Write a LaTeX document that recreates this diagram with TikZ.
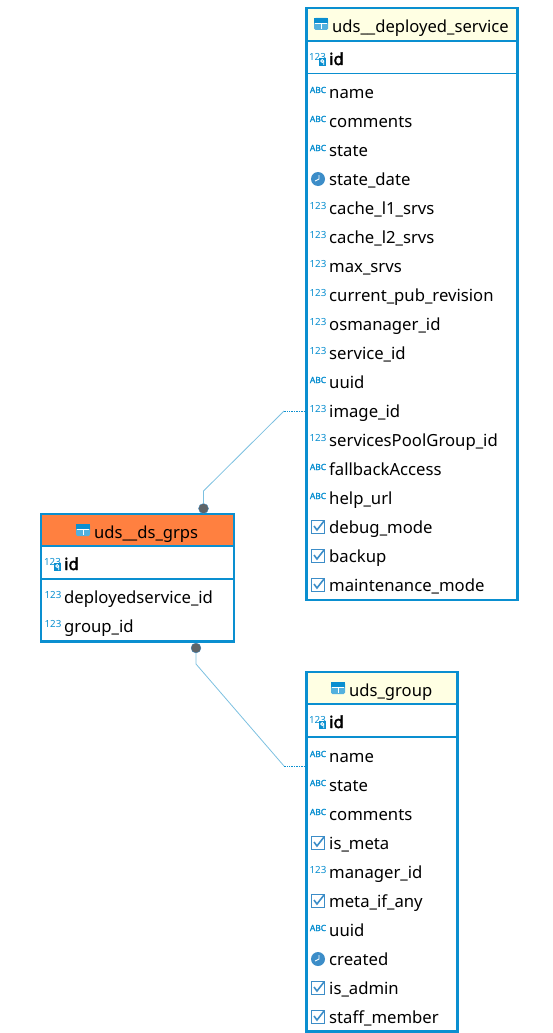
\documentclass[tikz,border=0pt]{standalone}
\usepackage{fontspec}
\setmainfont{Noto Sans}
\newfontfamily\heavyfont[FakeBold=2.2]{Noto Sans}
\usetikzlibrary{calc,positioning}
\definecolor{tableblue}{HTML}{0A8FD0}
\definecolor{iconblue}{HTML}{3C8DC8}
\definecolor{headyellow}{HTML}{FFFFE3}
\definecolor{headorange}{HTML}{FF8040}
\definecolor{linkblue}{HTML}{7CC0E0}
\definecolor{dotgrey}{HTML}{5F6468}
\tikzset{
    erd diagram/.style = {x=1pt, y=-1pt},
    box/.style         = {draw=tableblue, line width=2.2pt, inner sep=0pt,
                          outer sep=0pt, anchor=north west},
    header/.style      = {inner sep=0pt, outer sep=0pt, anchor=north west},
    rule/.style        = {draw=tableblue, line width=1.1pt},
    title/.style       = {anchor=base west, inner sep=0pt,
                          font=\fontsize{16.6}{18}\selectfont},
    row/.style         = {anchor=base west, inner sep=0pt,
                          font=\fontsize{16.7}{18}\selectfont},
    keyrow/.style      = {row, font=\fontsize{16.7}{18}\selectfont\heavyfont},
    link/.style        = {draw=linkblue, line width=0.8pt},
    linkend/.style     = {draw=tableblue, line width=0.7pt, densely dotted},
    joint/.style       = {circle, fill=dotgrey, draw=iconblue, line width=0.3pt,
                          minimum size=10pt, inner sep=0pt},
    iconnum/.pic       = {\node[text=tableblue, inner sep=0pt,
                          font=\fontsize{9.8}{9.8}\selectfont] at (0,-2) {123};},
    iconabc/.pic       = {\node[text=tableblue, inner sep=0pt,
                          font=\fontsize{8.4}{8.4}\selectfont\heavyfont] at (0,-2) {ABC};},
    iconclock/.pic     = {\fill[iconblue] (0,0) circle (7);
                          \draw[white, line width=0.9pt] (1,-4) -- (1,0) -- (-3,2);},
    iconcheck/.pic     = {\draw[iconblue, line width=1pt] (-6.5,-6.5) rectangle (6.5,6.5);
                          \draw[iconblue, line width=1.6pt] (-4,-1) -- (-1,3) -- (6,-6);},
    iconkey/.pic       = {\node[text=tableblue, inner sep=0pt,
                          font=\fontsize{9.8}{9.8}\selectfont] at (-0.5,-2) {123};
                          \fill[tableblue] (0.5,-1) rectangle (8,7);
                          \draw[white, line width=0.8pt] (4.2,2) circle (1.5) (5.7,2.5) -- (5.7,6);},
    icontable/.pic     = {\fill[tableblue!70, rounded corners=1.5pt] (-7,-6) rectangle (7,6);
                          \fill[tableblue] (-7,-6) rectangle (7,-1);
                          \draw[white, line width=0.9pt] (-6,-0.5) -- (6,-0.5) (0,-0.5) -- (0,5);},
}

\begin{document}
\begin{tikzpicture}[erd diagram]
\useasboundingbox (0,0) rectangle (553,1033);

% Header bands go first, the table frames are drawn over them.
\node[header, fill=headyellow, minimum width=211pt, minimum height=33pt] (svchead) at (306.5,8) {};
\node[header, fill=headorange, minimum width=193pt, minimum height=32pt] (dshead) at (41,514) {};
\node[header, fill=headyellow, minimum width=151pt, minimum height=32pt] (grphead) at (306.5,672) {};

% Table uds__deployed_service.
\node[box, minimum width=211pt, minimum height=592pt] (svc) at (306.5,8) {};
\draw[rule] (svchead.south west) -- (svchead.south east);
\coordinate (svckey) at (306.5,73.3);
\draw[rule] (svckey) -- (svckey -| svc.east);
\pic at (321,24) {icontable};
\node[title] (svctitle) at (332,33) {uds\_\_deployed\_service};
\pic at (318,59) {iconkey};
\node[keyrow] (svcid) at (329,65) {id};
\foreach \rowname/\rowicon [count=\n] in {
    name/iconabc, comments/iconabc, state/iconabc, state\_date/iconclock,
    cache\_l1\_srvs/iconnum, cache\_l2\_srvs/iconnum, max\_srvs/iconnum,
    current\_pub\_revision/iconnum, osmanager\_id/iconnum, service\_id/iconnum,
    uuid/iconabc, image\_id/iconnum, servicesPoolGroup\_id/iconnum,
    fallbackAccess/iconabc, help\_url/iconabc, debug\_mode/iconcheck,
    backup/iconcheck, maintenance\_mode/iconcheck} {
    \pgfmathsetmacro\rowy{92+29*(\n-1)}
    \coordinate (svcicon\n) at (318,\rowy);
    \pic at (svcicon\n) {\rowicon};
    \node[row] (svcrow\n) at (329,\rowy+6.4) {\rowname};
}

% Table uds__ds_grps.
\node[box, minimum width=193pt, minimum height=127.5pt] (ds) at (41,514) {};
\draw[rule] (dshead.south west) -- (dshead.south east);
\coordinate (dskey) at (41,579);
\draw[rule] (dskey) -- (dskey -| ds.east);
\pic at (83,530) {icontable};
\node[title] (dstitle) at (94,538) {uds\_\_ds\_grps};
\pic at (53,564) {iconkey};
\node[keyrow] (dsid) at (64,570) {id};
\foreach \rowname/\rowicon [count=\n] in {
    deployedservice\_id/iconnum, group\_id/iconnum} {
    \pgfmathsetmacro\rowy{597+29*(\n-1)}
    \coordinate (dsicon\n) at (53,\rowy);
    \pic at (dsicon\n) {\rowicon};
    \node[row] (dsrow\n) at (64,\rowy+6.4) {\rowname};
}

% Table uds_group.
\node[box, minimum width=151pt, minimum height=359.5pt] (grp) at (306.5,672) {};
\draw[rule] (grphead.south west) -- (grphead.south east);
\coordinate (grpkey) at (306.5,737);
\draw[rule] (grpkey) -- (grpkey -| grp.east);
\pic at (338,688) {icontable};
\node[title] (grptitle) at (349,696.6) {uds\_group};
\pic at (318,722) {iconkey};
\node[keyrow] (grpid) at (329,728) {id};
\foreach \rowname/\rowicon [count=\n] in {
    name/iconabc, state/iconabc, comments/iconabc, is\_meta/iconcheck,
    manager\_id/iconnum, meta\_if\_any/iconcheck, uuid/iconabc,
    created/iconclock, is\_admin/iconcheck, staff\_member/iconcheck} {
    \pgfmathsetmacro\rowy{756+29*(\n-1)}
    \coordinate (grpicon\n) at (318,\rowy);
    \pic at (grpicon\n) {\rowicon};
    \node[row] (grprow\n) at (329,\rowy+6.4) {\rowname};
}

% Links between the tables, each ending in a joint on uds__ds_grps.
\node[joint] (dsjointtop) at (203.5,508.5) {};
\node[joint] (dsjointbot) at (196,648) {};
\coordinate (svcbend) at (284,411);
\coordinate (topbend) at (203.5,491);
\coordinate (grpbend) at (284,766);
\coordinate (botbend) at (196,664);
\draw[linkend] (svc.west |- svcicon12) -- (svcbend);
\draw[link] (svcbend) -- (topbend) -- (dsjointtop);
\draw[linkend] (grp.west |- 0,766) -- (grpbend);
\draw[link] (grpbend) -- (botbend) -- (dsjointbot);

\end{tikzpicture}
\end{document}
